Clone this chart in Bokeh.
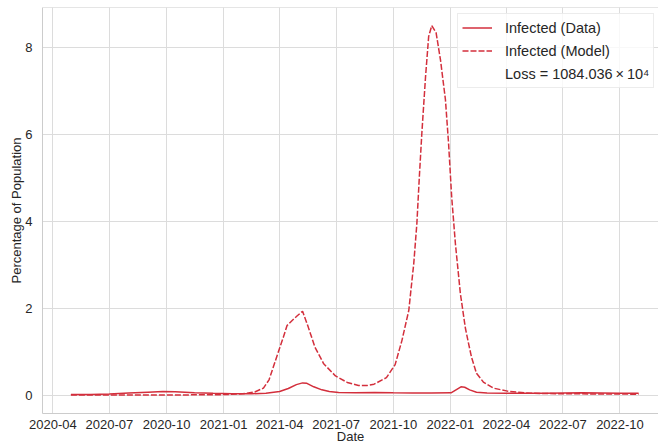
import pandas as pd
from bokeh.plotting import figure
from bokeh.models import (Range1d, FixedTicker, Legend, LegendItem, Span,
                          ColumnDataSource, DatetimeTickFormatter)
from bokeh.embed import file_html
from bokeh.resources import INLINE

# ---------------- data ----------------
data_dates = ["2020-04-30", "2020-06-01", "2020-07-01", "2020-08-01", "2020-09-01",
              "2020-09-25", "2020-10-15", "2020-11-15", "2020-12-15", "2021-01-15",
              "2021-02-15", "2021-03-10", "2021-04-01", "2021-04-15", "2021-04-28",
              "2021-05-08", "2021-05-15", "2021-05-26", "2021-06-08", "2021-06-20",
              "2021-07-05", "2021-08-01", "2021-09-01", "2021-10-01", "2021-11-01",
              "2021-12-01", "2022-01-02", "2022-01-10", "2022-01-18", "2022-01-24",
              "2022-02-01", "2022-02-12", "2022-03-01", "2022-04-01", "2022-06-01",
              "2022-08-01", "2022-10-01", "2022-10-31"]
data_values = [0.01, 0.015, 0.025, 0.045, 0.065,
               0.08, 0.075, 0.055, 0.04, 0.03,
               0.03, 0.04, 0.08, 0.15, 0.24,
               0.28, 0.27, 0.19, 0.12, 0.08,
               0.06, 0.055, 0.06, 0.05, 0.045,
               0.045, 0.05, 0.12, 0.19, 0.18,
               0.12, 0.065, 0.045, 0.04, 0.04,
               0.05, 0.04, 0.04]

model_dates = ["2020-04-30", "2020-08-01", "2020-11-01", "2021-01-01", "2021-02-01",
               "2021-02-20", "2021-03-06", "2021-03-15", "2021-03-22", "2021-04-01",
               "2021-04-07", "2021-04-13", "2021-04-20", "2021-04-29", "2021-05-08",
               "2021-05-17", "2021-05-28", "2021-06-11", "2021-06-30", "2021-07-19",
               "2021-08-06", "2021-08-20", "2021-08-31", "2021-09-20", "2021-10-04",
               "2021-10-15", "2021-10-26", "2021-11-03", "2021-11-08", "2021-11-12",
               "2021-11-16", "2021-11-22", "2021-11-27", "2021-12-02", "2021-12-09",
               "2021-12-16", "2021-12-24", "2021-12-29", "2022-01-03", "2022-01-09",
               "2022-01-17", "2022-01-25", "2022-01-30", "2022-02-04", "2022-02-12",
               "2022-02-23", "2022-03-11", "2022-04-03", "2022-05-10", "2022-07-01",
               "2022-10-31"]
model_values = [0.0, 0.0, 0.003, 0.01, 0.03,
                0.07, 0.16, 0.35, 0.65, 1.08,
                1.33, 1.6, 1.7, 1.82, 1.93,
                1.57, 1.1, 0.72, 0.44, 0.29,
                0.22, 0.22, 0.25, 0.4, 0.7,
                1.26, 1.95, 3.03, 3.95, 5.03,
                6.03, 7.34, 8.26, 8.51, 8.34,
                7.72, 6.8, 5.8, 4.57, 3.49,
                2.34, 1.55, 1.2, 0.87, 0.5,
                0.3, 0.16, 0.09, 0.04, 0.03,
                0.02]

tick_labels = ["2020-04", "2020-07", "2020-10", "2021-01", "2021-04", "2021-07",
               "2021-10", "2022-01", "2022-04", "2022-07", "2022-10"]
y_ticks = [0, 2, 4, 6, 8]

series_labels = ["Infected (Data)", "Infected (Model)"]
loss_label = "Loss = 1084.036\u2009\u00d7\u200910\u2074"

# ---------------- styling ----------------
RED = "#d32f3c"
GRID = "#dcdcdc"
TEXT = "#262626"
FONT = "Liberation Sans"


def ms(s):
    return pd.Timestamp(s).value / 1e6


data_src = ColumnDataSource(dict(x=[ms(d) for d in data_dates], y=data_values))
model_src = ColumnDataSource(dict(x=[ms(d) for d in model_dates], y=model_values))

p = figure(width=658, height=447, x_axis_type="datetime",
           output_backend="svg", toolbar_location=None,
           x_range=Range1d(ms("2020-03-15 07:00"), ms("2022-12-02")),
           y_range=Range1d(-0.425, 8.925),
           min_border_left=42, min_border_right=0,
           min_border_top=7, min_border_bottom=34)

p.outline_line_color = None
p.background_fill_color = "white"
p.border_fill_color = "white"

r1 = p.line("x", "y", source=data_src, line_color=RED, line_width=1.5)
r2 = p.line("x", "y", source=model_src, line_color=RED, line_width=1.5,
            line_dash="6 2")
r3 = p.line("x", "y", source=ColumnDataSource(dict(x=[], y=[])), line_alpha=0)

# axes
p.xaxis.ticker = FixedTicker(ticks=[ms(t + "-01") for t in tick_labels])
p.xaxis.formatter = DatetimeTickFormatter(days="%Y-%m", months="%Y-%m",
                                          years="%Y-%m")
p.yaxis.ticker = FixedTicker(ticks=y_ticks)

for ax in (p.xaxis[0], p.yaxis[0]):
    ax.major_tick_line_color = None
    ax.minor_tick_line_color = None
    ax.major_tick_out = 0
    ax.major_tick_in = 0
    ax.minor_tick_out = 0
    ax.minor_tick_in = 0
    ax.axis_line_color = "#cccccc"
    ax.major_label_text_font = FONT
    ax.major_label_text_font_size = "13px"
    ax.major_label_text_color = TEXT
    ax.axis_label_text_font = FONT
    ax.axis_label_text_font_size = "13px"
    ax.axis_label_text_font_style = "normal"
    ax.axis_label_text_color = TEXT

p.xaxis.axis_label = "Date"
p.yaxis.axis_label = "Percentage of Population"
p.xaxis.major_label_standoff = 6
p.xaxis.axis_label_standoff = -3
p.yaxis.major_label_standoff = 10
p.yaxis.axis_label_standoff = -2

p.xgrid.grid_line_color = GRID
p.ygrid.grid_line_color = GRID
p.xgrid.grid_line_width = 1
p.ygrid.grid_line_width = 1

p.add_layout(Span(location=8.925, dimension="width", line_color="#cccccc",
                  line_width=1))

legend = Legend(items=[LegendItem(label=series_labels[0], renderers=[r1]),
                       LegendItem(label=series_labels[1], renderers=[r2]),
                       LegendItem(label=loss_label, renderers=[r3])],
                location=(415, 325), padding=4, spacing=4, margin=0,
                label_height=19, glyph_height=19, glyph_width=30,
                label_standoff=13,
                label_text_font=FONT, label_text_font_size="14.5px",
                label_text_color=TEXT,
                border_line_color="#d9d9d9", border_line_width=1,
                background_fill_color="white", background_fill_alpha=0.8)
p.add_layout(legend)

open("out.html", "w").write(file_html(p, INLINE))
